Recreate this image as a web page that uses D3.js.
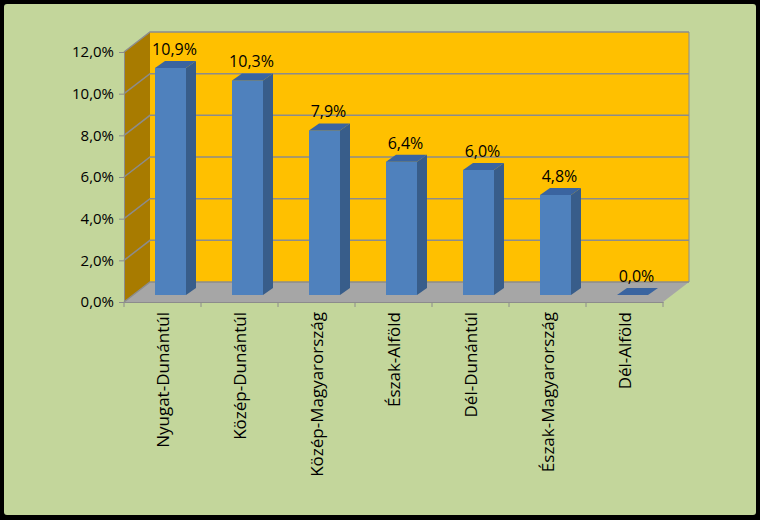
<!DOCTYPE html>
<html><head><meta charset="utf-8">
<script src="https://cdn.jsdelivr.net/npm/d3@7"></script>
<style>body{margin:0;background:#000}text{font-family:"Open Sans",sans-serif}</style>
</head><body>
<script>
// data
var regions = ["Nyugat-Dunántúl","Közép-Dunántúl","Közép-Magyarország","Észak-Alföld","Dél-Dunántúl","Észak-Magyarország","Dél-Alföld"];
var values = [10.9, 10.3, 7.9, 6.4, 6.0, 4.8, 0.0];
var yTicks = [0, 2, 4, 6, 8, 10, 12];

var W = 760, H = 520,
    x0 = 124, x1 = 663, yBot = 302, yTop = 52,
    ddx = 26, ddy = -20;   // wall depth offset

var fmt = function(v){ return v.toFixed(1).replace(".", ",") + "%"; };

var svg = d3.select("body").append("svg").attr("width", W).attr("height", H);
svg.append("rect").attr("x",0).attr("y",0).attr("width",W).attr("height",H).attr("fill","#000");
svg.append("rect").attr("x",4).attr("y",4).attr("width",W-8).attr("height",H-9).attr("rx",3).attr("fill","#C3D69B");

var x = d3.scaleBand().domain(regions).range([x0, x1]);
var y = d3.scaleLinear().domain([0, 12]).range([yBot, yTop]);

// back wall
svg.append("rect").attr("x", x0+ddx).attr("y", y(12)+ddy).attr("width", x1-x0).attr("height", yBot-yTop)
  .attr("fill","#FFC000");
// side wall
svg.append("polygon").attr("points", [[x0,y(12)],[x0+ddx,y(12)+ddy],[x0+ddx,yBot+ddy],[x0,yBot]].join(" "))
  .attr("fill","#A87B00");
// floor
svg.append("polygon").attr("points", [[x0,yBot],[x0+ddx,yBot+ddy],[x1+ddx,yBot+ddy],[x1,yBot]].join(" "))
  .attr("fill","#A6A6A6");

// gridlines
yTicks.forEach(function(t){
  svg.append("polyline").attr("fill","none").attr("stroke","#8C8C8C").attr("stroke-width",1.5)
    .attr("points", [[x0,y(t)],[x0+ddx,y(t)+ddy],[x1+ddx,y(t)+ddy]].join(" "));
});
svg.append("line").attr("x1",x1+ddx).attr("x2",x1+ddx).attr("y1",y(12)+ddy).attr("y2",yBot+ddy).attr("stroke","#8C8C8C");

// axes
var yAxis = svg.append("g").attr("transform","translate("+x0+",0)")
  .call(d3.axisLeft(y).tickValues(yTicks).tickFormat(fmt).tickSize(5).tickPadding(5));
var xAxis = svg.append("g").attr("transform","translate(0,"+yBot+")")
  .call(d3.axisBottom(x).tickSize(0).tickFormat(""));
xAxis.selectAll(".tick").remove();
regions.concat([null]).forEach(function(r,i){
  var xx = x0 + i * x.step();
  xAxis.append("line").attr("x1",xx).attr("x2",xx).attr("y1",0).attr("y2",5).attr("stroke","#8C8C8C");
});
[yAxis, xAxis].forEach(function(a){
  a.select(".domain").attr("stroke","#8C8C8C");
  a.selectAll(".tick line").attr("stroke","#8C8C8C");
});
yAxis.selectAll("text").attr("font-size",15).attr("fill","#000").attr("font-family","Open Sans");

// bars
var bw = 31, bdx = 10, bdy = -7, offy = -7;
var bars = svg.append("g").selectAll("g").data(values).enter().append("g");
bars.each(function(v, i){
  var g = d3.select(this);
  var bx = x(regions[i]) + x.step()/2 + 8 - bw/2, by0 = y(0) + offy, by1 = y(v) + offy;
  g.append("rect").attr("x",bx).attr("y",by1).attr("width",bw).attr("height",by0-by1).attr("fill","#4F81BD");
  g.append("polygon").attr("points",[[bx+bw,by1],[bx+bw+bdx,by1+bdy],[bx+bw+bdx,by0+bdy],[bx+bw,by0]].join(" ")).attr("fill","#385D8A");
  g.append("polygon").attr("points",[[bx,by1],[bx+bdx,by1+bdy],[bx+bw+bdx,by1+bdy],[bx+bw,by1]].join(" ")).attr("fill","#3A64A0");
  g.append("text").attr("x",bx+bw/2+4).attr("y",by1+bdy-6).attr("text-anchor","middle")
    .attr("font-size",16).text(fmt(v));
});

// category labels
svg.append("g").selectAll("text").data(regions).enter().append("text")
  .attr("transform", function(d){ return "translate("+(x(d)+x.step()/2+6)+","+(yBot+10)+") rotate(-90)"; })
  .attr("text-anchor","end").attr("font-size",17).text(function(d){ return d; });
</script>
</body></html>
